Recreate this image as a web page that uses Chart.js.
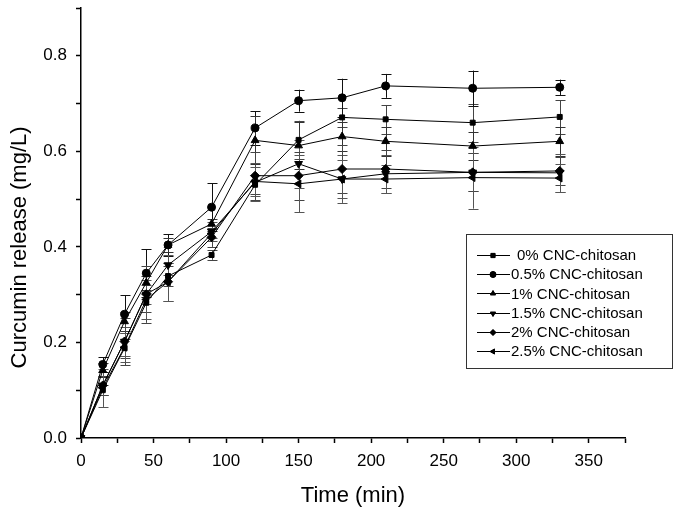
<!DOCTYPE html>
<html lang="en">
<head>
  <meta charset="UTF-8">
  <title>Curcumin release</title>
  <script src="https://cdn.jsdelivr.net/npm/chart.js"></script>
  <style>
    html, body { margin: 0; padding: 0; background: #fff; }
    #wrap { width: 680px; height: 514px; }
  </style>
</head>
<body>
  <div id="wrap"><canvas id="chart" width="680" height="514"></canvas></div>
  <script>
    const times = [0, 15, 30, 45, 60, 90, 120, 150, 180, 210, 270, 330];
    const labels = ['0% CNC-chitosan', '0.5% CNC-chitosan', '1% CNC-chitosan',
                    '1.5% CNC-chitosan', '2% CNC-chitosan', '2.5% CNC-chitosan'];

    const cnc0   = [0, 0.100, 0.188, 0.283, 0.339, 0.383, 0.530, 0.624, 0.671, 0.667, 0.660, 0.672];
    const cnc05  = [0, 0.154, 0.259, 0.345, 0.404, 0.483, 0.649, 0.706, 0.712, 0.737, 0.732, 0.734];
    const cnc1   = [0, 0.142, 0.244, 0.325, 0.404, 0.448, 0.623, 0.612, 0.631, 0.621, 0.611, 0.621];
    const cnc15  = [0, 0.110, 0.202, 0.301, 0.362, 0.432, 0.535, 0.574, 0.542, 0.553, 0.556, 0.555];
    const cnc2   = [0, 0.110, 0.202, 0.301, 0.327, 0.420, 0.549, 0.549, 0.563, 0.563, 0.556, 0.559];
    const cnc25  = [0, 0.105, 0.190, 0.290, 0.327, 0.428, 0.537, 0.532, 0.542, 0.542, 0.545, 0.544];

    const err0   = [0, 0.010, 0.020, 0.020, 0.020, 0.010, 0.020, 0.040, 0.020, 0.030, 0.040, 0.035];
    const err05  = [0, 0.015, 0.040, 0.050, 0.023, 0.050, 0.035, 0.023, 0.040, 0.025, 0.037, 0.016];
    const err1   = [0, 0.015, 0.020, 0.015, 0.015, 0.010, 0.050, 0.050, 0.030, 0.030, 0.030, 0.030];
    const err15  = [0, 0.020, 0.030, 0.020, 0.020, 0.020, 0.040, 0.050, 0.050, 0.040, 0.040, 0.040];
    const err2   = [0, 0.020, 0.050, 0.060, 0.040, 0.020, 0.050, 0.050, 0.050, 0.040, 0.040, 0.030];
    const err25  = [0, 0.040, 0.030, 0.040, 0.040, 0.010, 0.030, 0.060, 0.040, 0.030, 0.065, 0.030];

    const seriesVals = [cnc0, cnc05, cnc1, cnc15, cnc2, cnc25];
    const seriesErr = [err0, err05, err1, err15, err2, err25];
    const markers = [
      { style: 'rect', rot: 0, r: 3.5 },
      { style: 'circle', rot: 0, r: 4 },
      { style: 'triangle', rot: 0, r: 4.5 },
      { style: 'triangle', rot: 180, r: 4.5 },
      { style: 'rectRot', rot: 0, r: 4.5 },
      { style: 'triangle', rot: 270, r: 4.5 }
    ];
    const errColors = ['#444', '#111', '#333', '#555', '#444', '#555'];

    const FONT = '"Liberation Sans", Arial, sans-serif';

    const datasets = seriesVals.map((vals, i) => ({
      label: labels[i],
      data: times.map((t, j) => ({ x: t, y: vals[j] })),
      errors: seriesErr[i],
      errColor: errColors[i],
      borderColor: '#000',
      backgroundColor: '#000',
      borderWidth: 1,
      pointStyle: markers[i].style,
      rotation: markers[i].rot,
      pointRadius: markers[i].r,
      pointBorderWidth: 1,
      tension: 0,
      fill: false
    }));

    // error bars, drawn through the chart scales
    const errorBars = {
      id: 'errorBars',
      beforeDatasetsDraw(chart) {
        const ctx = chart.ctx;
        const xs = chart.scales.x, ys = chart.scales.y;
        ctx.save();
        ctx.lineWidth = 1;
        chart.data.datasets.forEach(ds => {
          ctx.strokeStyle = ds.errColor;
          ds.data.forEach((p, j) => {
            const e = ds.errors[j];
            if (!e) return;
            const px = Math.round(xs.getPixelForValue(p.x)) + 0.5;
            const top = ys.getPixelForValue(p.y + e);
            const bot = ys.getPixelForValue(p.y - e);
            ctx.beginPath();
            ctx.moveTo(px, top); ctx.lineTo(px, bot);
            ctx.moveTo(px - 5, Math.round(top) + 0.5); ctx.lineTo(px + 5, Math.round(top) + 0.5);
            ctx.moveTo(px - 5, Math.round(bot) + 0.5); ctx.lineTo(px + 5, Math.round(bot) + 0.5);
            ctx.stroke();
          });
        });
        ctx.restore();
      }
    };

    // boxed legend inside the plot
    const boxLegend = {
      id: 'boxLegend',
      afterDraw(chart) {
        const ctx = chart.ctx;
        const bx = 466, by = 234, bw = 206, bh = 134;
        ctx.save();
        ctx.strokeStyle = '#333';
        ctx.lineWidth = 1;
        ctx.strokeRect(bx + 0.5, by + 0.5, bw, bh);
        ctx.font = '15px ' + FONT;
        ctx.fillStyle = '#000';
        ctx.textBaseline = 'middle';
        chart.data.datasets.forEach((ds, i) => {
          const cy = 255 + i * 19.2;
          ctx.strokeStyle = '#000';
          ctx.beginPath();
          ctx.moveTo(477, Math.round(cy) + 0.5);
          ctx.lineTo(510, Math.round(cy) + 0.5);
          ctx.stroke();
          Chart.helpers.drawPoint(ctx, {
            pointStyle: ds.pointStyle, rotation: ds.rotation,
            radius: 3, borderWidth: 1
          }, 493, Math.round(cy) + 0.5);
          ctx.fillStyle = '#000';
          ctx.fill();
          ctx.fillText(ds.label, i === 0 ? 517 : 511, cy + 1);
        });
        ctx.restore();
      }
    };

    new Chart(document.getElementById('chart').getContext('2d'), {
      type: 'line',
      data: { datasets },
      plugins: [errorBars, boxLegend],
      options: {
        responsive: false,
        animation: false,
        layout: { padding: { top: 8, right: 55, left: 0, bottom: 0 } },
        plugins: { legend: { display: false }, tooltip: { enabled: false } },
        scales: {
          x: {
            type: 'linear',
            min: 0, max: 375,
            border: { color: '#000', width: 1.5 },
            grid: { display: true, drawOnChartArea: false, drawTicks: true, tickLength: 5, color: '#000', tickWidth: 1.5 },
            ticks: {
              stepSize: 25, color: '#000', padding: 8,
              font: { family: FONT, size: 17 },
              maxRotation: 0, autoSkip: false,
              callback: v => (v % 50 === 0 ? String(v) : '')
            },
            title: { display: true, text: 'Time (min)', color: '#000', font: { family: FONT, size: 22 }, padding: { top: 0, bottom: 5 } },
            afterFit: s => { s.height = 76; s.paddingLeft = 0; s.paddingRight = 0; }
          },
          y: {
            min: 0, max: 0.9,
            border: { color: '#000', width: 1.5 },
            grid: { display: true, drawOnChartArea: false, drawTicks: true, tickLength: 5, color: '#000', tickWidth: 1.5 },
            ticks: {
              stepSize: 0.1, color: '#000', padding: 9,
              font: { family: FONT, size: 17 },
              autoSkip: false,
              callback: v => {
                const k = Math.round(v * 10);
                return (k % 2 === 0 && k < 9) ? (k / 10).toFixed(1) : '';
              }
            },
            // trailing spaces nudge the centred title down, as in the original
            title: { display: true, text: 'Curcumin release (mg/L)        ', color: '#000', font: { family: FONT, size: 22 }, padding: { top: 7, bottom: 0 } },
            afterFit: s => { s.width = 81; s.paddingTop = 0; s.paddingBottom = 0; }
          }
        }
      }
    });
  </script>
</body>
</html>
